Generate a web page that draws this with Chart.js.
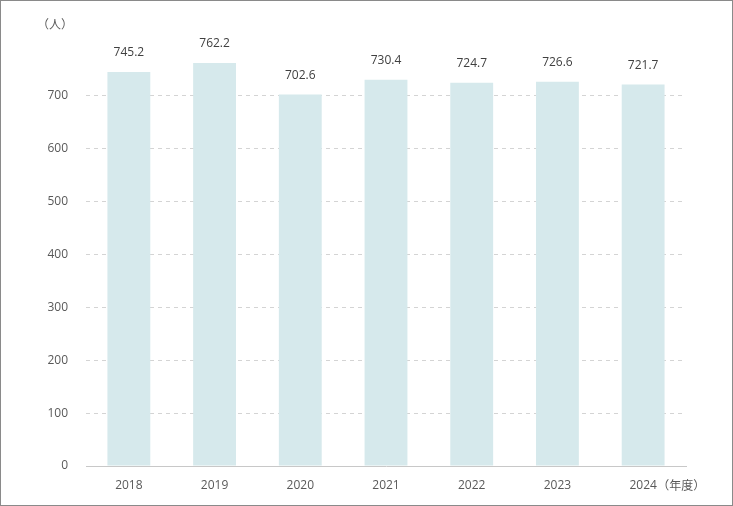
<!DOCTYPE html>
<html>
<head>
<meta charset="utf-8">
<script src="https://cdn.jsdelivr.net/npm/chart.js@4/dist/chart.umd.min.js"></script>
<style>
  html, body { margin: 0; padding: 0; background: #fff; }
  #wrap { position: relative; width: 733px; height: 506px; box-sizing: border-box; border: 1px solid #8a8a8a; }
  #wrap canvas { position: absolute; left: 0; top: 0; }
</style>
</head>
<body>
<div id="wrap"><canvas id="staffChart" width="733" height="506"></canvas></div>
<script>
// === dados ===
const years = ['2018', '2019', '2020', '2021', '2022', '2023', '2024'];
const staffCount = [745.2, 762.2, 702.6, 730.4, 724.7, 726.6, 721.7];
const yTicks = [0, 100, 200, 300, 400, 500, 600, 700];
const unitY = '（人）';
const unitX = '（年度）';

const FONT = '"Open Sans", "Noto Sans CJK JP", sans-serif';
const textColor = '#595959';

// rótulos em cima das barras + unidades
const labelPlugin = {
    id: 'labelPlugin',
    afterDatasetsDraw(chart) {
        const ctx = chart.ctx;
        const meta = chart.getDatasetMeta(0);
        ctx.save();
        ctx.font = '12px ' + FONT;
        ctx.fillStyle = '#404040';
        ctx.textAlign = 'center';
        ctx.textBaseline = 'bottom';
        meta.data.forEach((bar, i) => {
            ctx.fillText(staffCount[i].toFixed(1), bar.x, bar.y - 13);
        });
        // unidade eixo y
        ctx.fillStyle = textColor;
        ctx.textAlign = 'left';
        ctx.textBaseline = 'middle';
        ctx.fillText(unitY, 36, 25);
        // unidade eixo x, ao lado do último ano
        const xs = chart.scales.x;
        const lastX = xs.getPixelForValue(years.length - 1);
        ctx.fillText(unitX, lastX + 14, xs.bottom - 20);
        ctx.restore();
    }
};

const ctx = document.getElementById('staffChart').getContext('2d');
new Chart(ctx, {
    type: 'bar',
    data: {
        labels: years,
        datasets: [{
            data: staffCount,
            backgroundColor: '#d6e9ec',
            borderWidth: 0,
            categoryPercentage: 1,
            barPercentage: 0.5
        }]
    },
    options: {
        responsive: false,
        animation: false,
        layout: { padding: { top: 42, right: 48, left: 0, bottom: 0 } },
        plugins: { legend: { display: false }, tooltip: { enabled: false } },
        scales: {
            x: {
                grid: { display: false, drawTicks: false },
                border: { color: '#c8c8c8', width: 1, dash: [1, 1] },
                ticks: { color: textColor, font: { size: 12, family: FONT }, padding: 12 },
                afterFit(scale) { scale.height = 41; }
            },
            y: {
                min: 0,
                max: 800,
                afterBuildTicks(scale) { scale.ticks = yTicks.map(v => ({ value: v })); },
                grid: {
                    color: (c) => c.tick && c.tick.value === 0 ? 'rgba(0,0,0,0)' : '#d4d4d4',
                    drawTicks: false,
                    lineWidth: 1
                },
                border: { display: false, dash: [4, 4] },
                ticks: { color: textColor, font: { size: 12, family: FONT }, padding: 18 },
                afterFit(scale) { scale.width = 85; }
            }
        }
    },
    plugins: [labelPlugin]
});
</script>
</body>
</html>
